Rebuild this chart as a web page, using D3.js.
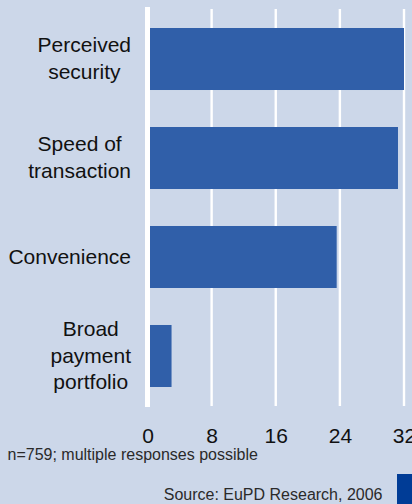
<!DOCTYPE html>
<html>
<head>
<meta charset="utf-8">
<script src="https://cdn.jsdelivr.net/npm/d3@7"></script>
<style>
  html, body { margin: 0; padding: 0; background: #ccd7e9; }
  svg { display: block; }
  text { font-family: "Liberation Sans", Arial, Helvetica, sans-serif; }
</style>
</head>
<body>
<svg id="chart" width="412" height="504"></svg>
<script>
// Reasons for choosing a payment method (share of respondents)
const categories = ["Perceived security", "Speed of transaction", "Convenience", "Broad payment portfolio"];
const labelLines = [["Perceived", "security"], ["Speed of", "transaction"], ["Convenience"], ["Broad", "payment", "portfolio"]];
const values = [32, 31.25, 23.6, 3];
const tickValues = [0, 8, 16, 24, 32];
const footnote = "n=759; multiple responses possible";
const source = "Source: EuPD Research, 2006";

const W = 412, H = 504;
const svg = d3.select("#chart");

svg.append("rect").attr("width", W).attr("height", H).attr("fill", "#ccd7e9");

const x = d3.scaleLinear().domain([0, 32]).range([147.5, 404]);
const y = d3.scaleBand().domain(categories).range([9, 406])
  .paddingInner(0.3737).paddingOuter(0.192);

// vertical gridlines
svg.append("g").selectAll("line")
  .data(tickValues.filter(d => d !== 0))
  .join("line")
  .attr("x1", d => x(d)).attr("x2", d => x(d))
  .attr("y1", 9).attr("y2", 406)
  .attr("stroke", "#ffffff").attr("stroke-width", 2.4);

// bars
svg.append("g").selectAll("rect")
  .data(categories)
  .join("rect")
  .attr("x", x(0))
  .attr("y", d => y(d))
  .attr("width", (d, i) => x(values[i]) - x(0))
  .attr("height", y.bandwidth())
  .attr("fill", "#305fa9");

// zero baseline
svg.append("line")
  .attr("x1", x(0)).attr("x2", x(0))
  .attr("y1", 7).attr("y2", 407)
  .attr("stroke", "#ffffff").attr("stroke-width", 5);

// category labels, each block centred on its widest line, right edge at 131
const lineH = 26.8;
const labels = svg.append("g").attr("fill", "#111").attr("font-size", 21);
categories.forEach((c, i) => {
  const lines = labelLines[i];
  const g = labels.append("g");
  const cy = y(c) + y.bandwidth() / 2;
  const texts = g.selectAll("text").data(lines).join("text")
    .attr("text-anchor", "middle")
    .attr("y", (d, j) => cy + (j - (lines.length - 1) / 2) * lineH + 6.6)
    .text(d => d);
  const maxW = d3.max(texts.nodes(), n => n.getComputedTextLength());
  texts.attr("x", 131 - maxW / 2);
});

// x axis tick labels
const axis = d3.axisBottom(x).tickValues(tickValues).tickSize(0).tickPadding(0).tickFormat(d3.format("d"));
const ax = svg.append("g").attr("transform", "translate(0,428)").call(axis);
ax.select(".domain").remove();
ax.selectAll("text")
  .attr("font-size", 21)
  .attr("font-family", "'Liberation Sans', Arial, sans-serif")
  .attr("fill", "#111");

// footnote and source
svg.append("text").attr("x", 7.5).attr("y", 459.5)
  .attr("font-size", 16).attr("fill", "#2a2a2a").text(footnote);
svg.append("text").attr("x", 382.5).attr("y", 500)
  .attr("text-anchor", "end")
  .attr("font-size", 16).attr("fill", "#2a2a2a").text(source);

// publisher badge in the corner
svg.append("rect").attr("x", 397).attr("y", 474).attr("width", 15).attr("height", 30)
  .attr("fill", "#003c96");
</script>
</body>
</html>
